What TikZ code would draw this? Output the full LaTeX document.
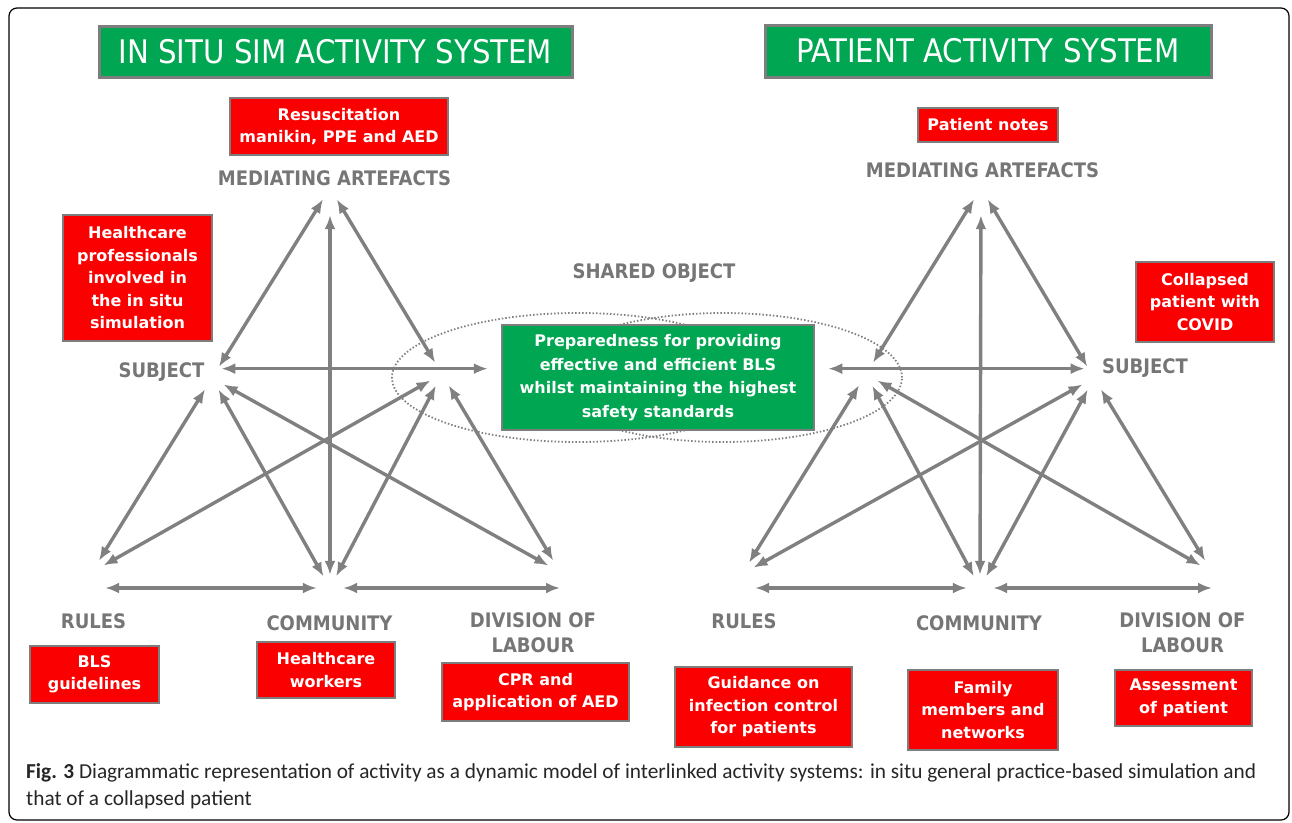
\documentclass[tikz,border=0pt]{standalone}
\usepackage{fontspec}
\setmainfont{DejaVu Sans Condensed}[BoldFont={DejaVu Sans Condensed Bold}]
\newfontfamily\notefont{DejaVu Sans Bold}
\newfontfamily\capfont{Carlito}
\usetikzlibrary{arrows.meta}

\definecolor{simgreen}{RGB}{0,166,81}
\definecolor{boxred}{RGB}{250,0,0}
\definecolor{rimgray}{RGB}{125,125,125}
\definecolor{labgray}{RGB}{118,118,118}
\definecolor{arrgray}{RGB}{128,128,128}

\tikzset{
  heading/.style={fill=simgreen, draw=rimgray, line width=3pt, text=white,
    font=\fontsize{32.5}{36}\selectfont, inner sep=0pt},
  notebox/.style={fill=boxred, draw=rimgray, line width=2.5pt, text=white,
    font=\notefont\fontsize{16}{22.5}\selectfont, align=center, inner sep=0pt},
  lab/.style={text=labgray, font=\fontsize{20}{25}\selectfont\bfseries, align=center, inner sep=0pt},
  hub/.style={circle, minimum size=26pt, inner sep=0pt},
  arr/.style={color=arrgray, line width=3.4pt,
    {Latex[length=14pt,width=11pt]}-{Latex[length=14pt,width=11pt]}},
  ring/.style={draw=arrgray, line width=1.8pt, dash pattern=on 1.5pt off 2pt}
}

\begin{document}
\begin{tikzpicture}[x=1pt,y=-1pt]
\useasboundingbox (0,0) rectangle (1292,822);
\draw[rounded corners=8pt, line width=1.2pt] (9,8) rectangle (1289,820);

% headings
\node[heading, minimum width=473pt, minimum height=51pt] (title1) at (335.5,51.5) {IN SITU SIM ACTIVITY SYSTEM};
\node[heading, minimum width=446pt, minimum height=52pt] (title2) at (988,51) {PATIENT ACTIVITY SYSTEM};

% shared object between the two systems
\draw[ring] (578,377.5) ellipse [x radius=186pt, y radius=64.5pt];
\draw[ring] (723,377.5) ellipse [x radius=179pt, y radius=64.5pt];
\node[lab] (sharedlab) at (654,273) {SHARED OBJECT};
\node[fill=simgreen, draw=rimgray, line width=2.5pt, text=white, align=center,
      font=\notefont\fontsize{16}{23.5}\selectfont, minimum width=312pt, minimum height=105pt]
      (shared) at (658,377.5) {Preparedness for providing\\effective and efficient BLS\\whilst maintaining the highest\\safety standards};

% corner points of the two triangles
\node[hub] (M1) at (330,188) {};
\node[hub] (S1) at (212,378) {};
\node[hub] (O1) at (442,374) {};
\node[hub] (R1) at (92,572) {};
\node[hub] (C1) at (330,588) {};
\node[hub] (D1) at (560,572) {};

\node[hub] (M2) at (981,188) {};
\node[hub] (S2) at (1094,378) {};
\node[hub] (O2) at (866,374) {};
\node[hub] (R2) at (742,574) {};
\node[hub] (C2) at (980,588) {};
\node[hub] (D2) at (1212,572) {};

% in situ sim system
\path[arr]
  (S1) edge (M1)
  (O1) edge (M1)
  (C1) edge[shorten >=14pt] (M1)
  (S1.45) edge[shorten >=13pt] (S1.45 -| shared.west)
  (S1) edge (R1)
  (S1) edge (C1)
  (S1) edge (D1)
  (O1) edge (R1)
  (O1) edge (C1)
  (O1) edge (D1)
  (C1.west -| R1.east) edge (C1.west)
  (C1.east) edge (C1.east -| D1.center);

% patient system
\path[arr]
  (S2) edge (M2)
  (O2) edge (M2)
  (C2) edge[shorten >=14pt] (M2)
  (S2.135) edge[shorten >=13pt] (S2.135 -| shared.east)
  (S2) edge (R2)
  (S2) edge (C2)
  (S2) edge (D2)
  (O2) edge (R2)
  (O2) edge (C2)
  (O2) edge (D2)
  (C2.west -| R2.east) edge (C2.west)
  (C2.east) edge (C2.east -| D2.center);

% labels
\node[lab] (med1) at (334.5,178) {MEDIATING ARTEFACTS};
\node[lab] (subj1) at (161.5,372) {SUBJECT};
\node[lab] (rules1) at (93.5,621) {RULES};
\node[lab] (comm1) at (329.5,623) {COMMUNITY};
\node[lab] (div1) at (533,633) {DIVISION OF\\LABOUR};

\node[lab] (med2) at (982.5,170) {MEDIATING ARTEFACTS};
\node[lab] (subj2) at (1145,368) {SUBJECT};
\node[lab] (rules2) at (744,621) {RULES};
\node[lab] (comm2) at (979,623) {COMMUNITY};
\node[lab] (div2) at (1182.5,633) {DIVISION OF\\LABOUR};

% red notes
\node[notebox, minimum width=218pt, minimum height=57pt] (tools1) at (339,126.5) {Resuscitation\\manikin, PPE and AED};
\node[notebox, minimum width=149pt, minimum height=126pt] (who1) at (137.5,278) {Healthcare\\professionals\\involved in\\the in situ\\simulation};
\node[notebox, minimum width=129pt, minimum height=57pt] (rulebox1) at (94.5,674.5) {BLS\\guidelines};
\node[notebox, minimum width=138pt, minimum height=56pt] (commbox1) at (326,670) {Healthcare\\workers};
\node[notebox, minimum width=187pt, minimum height=58pt] (divbox1) at (535.5,692) {CPR and\\application of AED};

\node[notebox, minimum width=140pt, minimum height=34pt] (tools2) at (988,125) {Patient notes};
\node[notebox, minimum width=138pt, minimum height=80pt] (who2) at (1205,302) {Collapsed\\patient with\\COVID};
\node[notebox, minimum width=177pt, minimum height=80pt] (rulebox2) at (763.5,707) {Guidance on\\infection control\\for patients};
\node[notebox, minimum width=150pt, minimum height=80pt] (commbox2) at (983,710) {Family\\members and\\networks};
\node[notebox, minimum width=137pt, minimum height=56pt] (divbox2) at (1183.5,698) {Assessment\\of patient};

% caption
\node[anchor=north west, inner sep=0pt, align=left, text=black!85,
      font=\capfont\fontsize{21.3}{27}\selectfont] (caption) at (26,763)
  {\textbf{Fig. 3} Diagrammatic representation of activity as a dynamic model of interlinked activity systems: in situ general practice-based simulation and\\that of a collapsed patient};
\end{tikzpicture}
\end{document}
